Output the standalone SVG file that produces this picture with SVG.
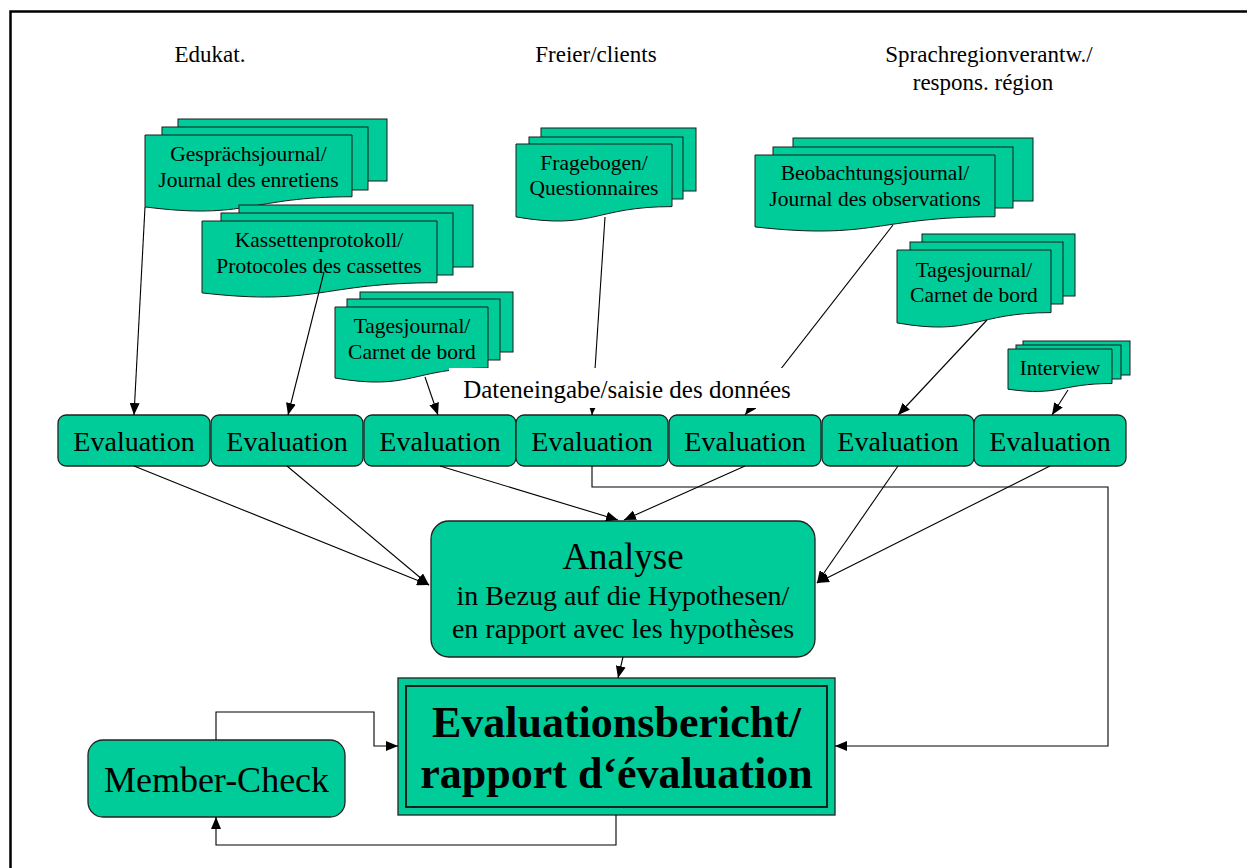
<svg xmlns="http://www.w3.org/2000/svg" width="1247" height="868" viewBox="0 0 1247 868">
<style>
.doc{fill:#00CC99;stroke:#1a1a1a;stroke-width:1}
.box{fill:#00CC99;stroke:#222;stroke-width:1.3}
.t{font-family:"Liberation Serif","Times New Roman",serif;fill:#000;text-anchor:middle}
.h{font-size:23px}
.d{font-size:21.5px}
.e{font-size:28px}
.c{fill:none;stroke:#000;stroke-width:1.1}
.ar{marker-end:url(#ah)}
</style>
<defs>
<marker id="ah" markerUnits="userSpaceOnUse" markerWidth="13" markerHeight="10" refX="12" refY="5" orient="auto">
<path d="M0,0 L12,5 L0,10 Z" fill="#000"/>
</marker>
</defs>
<rect x="0" y="0" width="1247" height="868" fill="#fff"/>
<path d="M10.5,868 V11.5 H1247" fill="none" stroke="#000" stroke-width="2.5"/>

<g id="headings">
<text class="t h" x="210" y="62">Edukat.</text>
<text class="t h" x="596" y="62">Freier/clients</text>
<text class="t h" x="989" y="62">Sprachregionverantw./</text>
<text class="t h" x="983" y="90">respons. région</text>
</g>

<g id="doc-gespraech">
<rect class="doc" x="178" y="119" width="209" height="62"/>
<rect class="doc" x="162" y="127" width="206" height="63"/>
<path class="doc" d="M145,135 H352 V196.75 C248.5,196.75 248.5,220.3 145,206.9 Z"/>
<text class="t d" x="248.5" y="161">Gesprächsjournal/</text>
<text class="t d" x="248.5" y="187">Journal des enretiens</text>
</g>

<g id="doc-kassetten">
<rect class="doc" x="239" y="205" width="234" height="62"/>
<rect class="doc" x="221" y="213" width="232" height="62"/>
<path class="doc" d="M202,221 H437 V282.75 C319.5,282.75 319.5,306.3 202,292.9 Z"/>
<text class="t d" x="319" y="247">Kassettenprotokoll/</text>
<text class="t d" x="319" y="273">Protocoles des cassettes</text>
</g>

<g id="doc-tages1">
<rect class="doc" x="360" y="292" width="153" height="60"/>
<rect class="doc" x="347" y="299" width="153" height="61"/>
<path class="doc" d="M335,307 H488 V368 C411.5,368 411.5,391.2 335,378 Z"/>
<text class="t d" x="412" y="333">Tagesjournal/</text>
<text class="t d" x="412" y="359">Carnet de bord</text>
</g>

<g id="doc-frage">
<rect class="doc" x="541" y="128" width="155" height="63"/>
<rect class="doc" x="529" y="137" width="154" height="62"/>
<path class="doc" d="M516,144 H672 V206.6 C594,206.6 594,230.4 516,216.9 Z"/>
<text class="t d" x="594" y="170">Fragebogen/</text>
<text class="t d" x="594" y="195">Questionnaires</text>
</g>

<g id="doc-beobachtung">
<rect class="doc" x="793" y="138" width="240" height="63"/>
<rect class="doc" x="773" y="147" width="240" height="61"/>
<path class="doc" d="M755,155 H995 V216.75 C875,216.75 875,240.3 755,226.9 Z"/>
<text class="t d" x="875" y="180">Beobachtungsjournal/</text>
<text class="t d" x="875" y="206">Journal des observations</text>
</g>

<g id="doc-tages2">
<rect class="doc" x="922" y="234" width="153" height="62"/>
<rect class="doc" x="910" y="242" width="153" height="62"/>
<path class="doc" d="M897,250 H1051 V312.6 C974,312.6 974,336.4 897,322.9 Z"/>
<text class="t d" x="974" y="277">Tagesjournal/</text>
<text class="t d" x="974" y="302">Carnet de bord</text>
</g>

<g id="doc-interview">
<rect class="doc" x="1023" y="341" width="107" height="34"/>
<rect class="doc" x="1016" y="345" width="105" height="34"/>
<path class="doc" d="M1008,349 H1112 V383.5 C1060,383.5 1060,396.6 1008,389.2 Z"/>
<text class="t" style="font-size:21px" x="1060" y="375">Interview</text>
</g>

<g id="eval1"><rect class="box" x="58" y="415" width="152" height="51" rx="8"/><text class="t e" x="134" y="451">Evaluation</text></g>
<g id="eval2"><rect class="box" x="211" y="415" width="152" height="51" rx="8"/><text class="t e" x="287" y="451">Evaluation</text></g>
<g id="eval3"><rect class="box" x="364" y="415" width="152" height="51" rx="8"/><text class="t e" x="440" y="451">Evaluation</text></g>
<g id="eval4"><rect class="box" x="516" y="415" width="152" height="51" rx="8"/><text class="t e" x="592" y="451">Evaluation</text></g>
<g id="eval5"><rect class="box" x="669" y="415" width="152" height="51" rx="8"/><text class="t e" x="745" y="451">Evaluation</text></g>
<g id="eval6"><rect class="box" x="822" y="415" width="152" height="51" rx="8"/><text class="t e" x="898" y="451">Evaluation</text></g>
<g id="eval7"><rect class="box" x="974" y="415" width="152" height="51" rx="8"/><text class="t e" x="1050" y="451">Evaluation</text></g>

<g id="analyse">
<rect class="box" x="431" y="521" width="384" height="136" rx="18"/>
<text class="t" style="font-size:37px" x="623" y="569">Analyse</text>
<text class="t" style="font-size:28px" x="623" y="605">in Bezug auf die Hypothesen/</text>
<text class="t" style="font-size:28px" x="623" y="638">en rapport avec les hypothèses</text>
</g>

<g id="bericht">
<rect x="398" y="678" width="437" height="137" fill="#00CC99" stroke="#222" stroke-width="1.3"/>
<rect x="406" y="686" width="421" height="121" fill="none" stroke="#111" stroke-width="1.8"/>
<text class="t" style="font-size:44px;font-weight:bold" x="616.5" y="737">Evaluationsbericht/</text>
<text class="t" style="font-size:44px;font-weight:bold" x="616.5" y="788">rapport d‘évaluation</text>
</g>

<g id="member">
<rect class="box" x="88" y="740" width="257" height="77" rx="15"/>
<text class="t" style="font-size:36px" x="216.5" y="792">Member-Check</text>
</g>

<g id="connectors">
<path class="c ar" d="M145,207 L134,415"/>
<path class="c ar" d="M324,272 L288,415"/>
<path class="c ar" d="M425,377 L438,415"/>
<path class="c ar" d="M605,217 L592,415"/>
<path class="c ar" d="M893,225 L745,415"/>
<path class="c ar" d="M987,320 L898,415"/>
<path class="c ar" d="M1068,390 L1052,415"/>
<path class="c ar" d="M134,466 L429,585"/>
<path class="c ar" d="M287,466 L429,585"/>
<path class="c ar" d="M440,466 L618,520"/>
<path class="c ar" d="M745,466 L624,520"/>
<path class="c ar" d="M898,466 L817,583"/>
<path class="c ar" d="M1050,466 L817,583"/>
<path class="c ar" d="M592,466 V487 H1108 V746 H835"/>
<path class="c ar" d="M623,657 L618,678"/>
<path class="c ar" d="M216,740 V712 H374 V746 H398"/>
<path class="c ar" d="M616,815 V845 H216 V817"/>
</g>

<g id="label-dateneingabe">
<rect x="449" y="368" width="352" height="40" fill="#fff"/>
<text class="t" style="font-size:25px" x="627" y="398">Dateneingabe/saisie des données</text>
</g>
</svg>
